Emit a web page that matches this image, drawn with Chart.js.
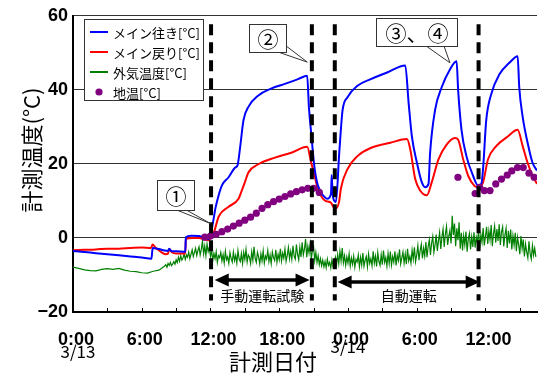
<!DOCTYPE html>
<html><head><meta charset="utf-8">
<script src="https://cdn.jsdelivr.net/npm/chart.js@4"></script>
<style>html,body{margin:0;padding:0;background:#fff}#wrap{width:541px;height:374px;position:relative}</style>
</head><body><div id="wrap"><canvas id="c" width="541" height="374"></canvas></div>
<script>
// ---------- data ----------
const xTickHours = [0, 6, 12, 18, 24, 30, 36];
const xTickLabels = ['0:00', '6:00', '12:00', '18:00', '0:00', '6:00', '12:00'];
const xMinorTickHours = [3, 9, 15, 21, 27, 33, 39];
const dateHours = [0, 24];
const dateLabels = ['3/13', '3/14'];
const yTicks = [-20, 0, 20, 40, 60];
const seriesNames = ['メイン往き[°C]', 'メイン戻り[°C]', '外気温度[°C]', '地温[°C]'];

const blueT = [0,1,2,3,4,5,6,6.85,6.95,7.5,8.0,8.3,8.4,8.6,9.0,9.8,9.85,10.3,11.0,11.5,11.8,12.0,12.28,12.43,12.72,13.0,13.58,14.16,14.36,14.6,14.88,15.31,16.18,17.33,18.49,19.64,20.44,20.59,20.79,21.08,21.37,21.95,22.23,22.52,22.58,22.66,22.81,22.95,23.24,23.53,23.96,24.83,25.98,27.42,29.0,29.3,29.58,30.02,30.45,30.74,31.03,31.17,31.6,32.18,32.9,33.48,33.62,33.91,34.34,34.92,35.35,35.64,35.79,36.07,36.51,37.22,38.09,38.81,38.95,39.25,39.68,40.11,40.5];
const blueV = [-3.5,-3.8,-4.1,-4.4,-4.7,-5.0,-5.3,-5.6,-2.7,-3.0,-3.4,-3.5,-2.9,-3.6,-3.6,-3.7,0.2,0.6,0.5,0.0,-0.3,0.8,5.3,8.0,11.6,14.2,16.4,19.0,19.6,24.8,31.8,35.4,38.5,40.4,41.6,42.9,43.8,35.4,28.3,19.0,14.2,11.1,10.6,12.0,17.0,12.0,10.0,9.7,23.0,34.5,38.0,41.1,42.9,44.7,46.6,36.3,27.4,20.3,15.0,13.7,14.6,23.0,34.5,40.7,45.5,47.7,39.8,29.2,22.1,16.8,14.2,14.6,18.6,31.8,38.9,44.2,47.3,49.1,40.7,32.7,25.7,20.3,18.2];

const redT = [0,1,2,3,4,5,6,6.8,6.95,7.2,7.6,8.1,8.3,8.4,8.6,9.0,9.8,9.85,10.5,11.0,11.5,11.9,12.0,12.28,12.72,13.58,14.45,14.73,15.0,15.31,16.18,17.62,19.06,20.44,20.79,21.02,21.37,21.95,22.52,22.81,22.95,23.24,23.38,23.96,24.83,25.98,27.7,29.15,29.44,29.87,30.3,30.88,31.31,31.9,32.61,33.33,33.62,34.06,34.49,35.06,35.35,35.79,36.22,36.94,37.95,38.81,39.25,39.68,40.11,40.5];
const redV = [-3.3,-3.2,-3.1,-2.9,-2.9,-2.7,-2.6,-2.7,-1.8,-2.6,-3.6,-4.4,-4.2,-3.0,-3.8,-4.2,-4.2,-0.2,0.0,0.0,-0.4,-0.6,0.0,1.3,5.8,8.4,10.6,12.8,15.0,17.7,19.9,21.7,23.0,24.6,20.3,17.7,13.3,10.2,9.5,8.0,8.0,10.0,13.3,18.6,22.1,24.3,25.7,26.7,23.9,15.9,12.8,11.5,15.0,21.2,25.2,27.0,26.5,21.2,16.8,14.0,13.7,15.0,21.2,24.8,27.4,29.2,24.8,20.3,16.8,14.6];

// outside temperature: readings every 30 min 0:00-7:30, then 6-minute samples from 8:00
const greenEarlyT = [0,0.5,1,1.5,2,2.5,3,3.5,4,4.5,5,5.5,6,6.5,7,7.5];
const greenEarlyV = [-7.9,-8.2,-8.6,-8.8,-8.9,-8.5,-8.3,-8.5,-8.2,-8.7,-9.0,-9.1,-9.4,-9.5,-9.0,-8.7];
const greenDenseStart = 8.0, greenDenseStep = 0.1;
const greenDenseV = [
-7.6,-7.2,-7.9,-6.9,-7.4,-6.6,-7.5,-7.0,-6.4,-7.1,
-5.9,-6.7,-5.2,-6.3,-4.8,-6.0,-5.4,-4.3,-5.8,-4.6,
-5.2,-3.8,-5.6,-4.4,-3.2,-5.0,-3.9,-2.8,-4.7,-3.4,
-2.4,-4.6,-3.1,-0.9,-4.3,-2.2,-4.8,-1.6,-3.7,-2.5,
-5.0,-3.3,-6.1,-4.2,-5.6,-3.7,-6.6,-4.8,-5.3,-3.9,
-6.2,-4.5,-6.8,-3.6,-5.9,-5.1,-6.9,-4.0,-5.5,-6.5,
-3.8,-6.1,-4.7,-6.8,-3.4,-5.7,-6.4,-4.2,-6.9,-3.9,
-5.8,-3.1,-6.5,-4.6,-5.2,-6.9,-3.7,-6.0,-2.4,-5.5,
-6.6,-3.9,-5.1,-7.0,-4.3,-6.2,-3.5,-6.8,-4.9,-5.7,
-3.4,-6.4,-4.6,-6.9,-3.8,-5.3,-6.1,-3.2,-6.6,-4.4,
-5.9,-2.9,-6.2,-4.1,-5.5,-3.0,-6.3,-4.7,-2.6,-5.6,
-3.6,-5.8,-2.1,-4.9,-5.7,-1.8,-4.4,-5.9,-2.5,-5.1,
-1.2,-4.6,-3.0,-0.3,-5.2,-2.2,-4.1,-1.6,-5.6,-3.3,
-2.4,-6.1,-3.9,-6.6,-4.8,-7.2,-5.6,-7.5,-6.0,-7.8,
-6.3,-8.0,-5.7,-7.4,-6.6,-8.1,-5.9,-7.7,-6.8,-5.2,
-7.3,-4.5,-6.9,-3.6,-6.2,-2.7,-6.7,-4.8,-7.4,-5.1,
-6.8,-4.3,-7.6,-5.4,-7.1,-4.9,-7.9,-5.8,-6.5,-4.6,
-7.8,-5.2,-7.3,-4.1,-7.6,-6.0,-5.0,-7.8,-4.4,-6.9,
-5.6,-7.5,-3.6,-6.8,-4.9,-7.7,-3.9,-6.3,-7.4,-4.5,
-7.2,-3.4,-6.6,-5.3,-7.6,-4.2,-6.9,-3.7,-7.3,-5.0,
-6.5,-3.6,-7.4,-4.7,-6.1,-3.1,-7.0,-5.4,-3.8,-6.8,
-4.3,-7.1,-2.9,-6.2,-5.0,-6.8,-3.3,-5.7,-2.5,-6.4,
-4.6,-2.1,-6.0,-3.4,-1.7,-5.5,-2.8,-4.9,-1.1,-5.2,
-2.3,-0.5,-4.6,-1.4,0.4,-3.9,-1.9,0.9,-3.5,-0.8,
1.5,-3.0,0.2,2.4,-2.4,1.0,3.1,-1.9,0.4,2.0,
-1.5,6.0,0.8,3.9,-2.2,2.6,-0.6,4.2,-2.9,1.4,
-3.4,0.6,-1.9,1.7,-3.7,-0.4,1.2,-3.1,0.3,-2.4,
1.5,-2.6,0.2,-1.4,2.1,-2.9,0.9,-1.1,2.7,-2.0,
0.4,3.0,-1.6,1.9,-0.5,3.5,-2.2,1.1,3.2,-1.3,
2.4,-0.8,3.7,-1.9,1.6,3.0,-2.3,0.8,2.6,-2.7,
1.9,-1.5,2.3,-3.1,0.6,-2.0,1.4,-3.6,0.2,-1.8,
-4.4,0.5,-2.9,-0.4,-5.0,-1.6,-3.8,-5.4,-0.9,-4.2,
-5.7,-2.0,-4.6,-2.8,-5.1];

const soilT = [11.5,12.0,12.5,13.0,13.5,14.0,14.5,15.0,15.5,16.0,16.5,17.0,17.5,18.0,18.5,19.0,19.5,20.0,20.5,21.0,21.5,33.6,35.1,35.5,35.9,36.4,36.9,37.4,37.9,38.3,38.8,39.3,39.8,40.25];
const soilV = [0.2,0.5,1.0,1.7,2.4,3.2,4.0,4.8,5.6,6.7,8.0,9.0,9.8,10.5,11.2,11.9,12.5,13.0,13.4,13.4,12.3,16.4,12.0,13.7,12.8,12.8,14.6,15.9,17.0,18.1,19.0,19.0,17.5,16.4];

const markerHours = [12.05, 20.85, 22.85, 35.4];
const periodRanges = [[12.37, 20.65], [23.1, 35.5]];
const periodLabels = ['手動運転試験', '自動運転'];
const calloutLabels = ['①', '②', '③、④'];
const calloutTips = [[12.0, 3.9], [20.45, 47.5], [32.9, 47.3]];

// ---------- build ----------
const pts = (t, v) => t.map((x, i) => ({x, y: v[i]}));
const greenPts = pts(greenEarlyT, greenEarlyV).concat(
  greenDenseV.map((y, i) => ({x: +(greenDenseStart + i * greenDenseStep).toFixed(2), y})));
const JP = '"Noto Sans CJK JP", sans-serif';

const datasets = [];
markerHours.forEach(h => datasets.push({
  label: '', data: [{x: h, y: 57.7}, {x: h, y: -16.9}],
  borderColor: '#000', borderWidth: 4, borderDash: [11, 7], pointRadius: 0, showLine: true
}));
datasets.push({label: seriesNames[3], data: pts(soilT, soilV), showLine: false,
  pointRadius: 3.6, pointBackgroundColor: '#800080', pointBorderWidth: 0, borderColor: '#800080'});
datasets.push({label: seriesNames[0], data: pts(blueT, blueV), borderColor: '#0000ff', borderWidth: 2, pointRadius: 0, cubicInterpolationMode: 'monotone'});
datasets.push({label: seriesNames[1], data: pts(redT, redV), borderColor: '#ff0000', borderWidth: 2, pointRadius: 0, cubicInterpolationMode: 'monotone'});
datasets.push({label: seriesNames[2], data: greenPts, borderColor: '#008000', borderWidth: 1.2, pointRadius: 0, tension: 0});

const overlay = {
  id: 'overlay',
  afterDraw(chart) {
    const ctx = chart.ctx, xs = chart.scales.x, ys = chart.scales.y;
    const ca = chart.chartArea;
    ctx.save();
    ctx.strokeStyle = '#000'; ctx.lineWidth = 1;
    xMinorTickHours.concat(xTickHours).forEach(h => {
      const px = Math.round(xs.getPixelForValue(h)) + 0.5;
      ctx.beginPath(); ctx.moveTo(px, ca.bottom); ctx.lineTo(px, ca.bottom - 4); ctx.stroke();
    });
    ctx.fillStyle = '#000';
    periodRanges.forEach((r, i) => {
      const x1 = xs.getPixelForValue(r[0]), x2 = xs.getPixelForValue(r[1]);
      const y = Math.round(ys.getPixelForValue(i === 0 ? -11.4 : -11.9));
      const hl = 14, hh = 6.5;
      ctx.strokeStyle = '#000'; ctx.lineWidth = 3.5;
      ctx.beginPath(); ctx.moveTo(x1 + hl - 1, y); ctx.lineTo(x2 - hl + 1, y); ctx.stroke();
      ctx.beginPath(); ctx.moveTo(x1, y); ctx.lineTo(x1 + hl, y - hh); ctx.lineTo(x1 + hl, y + hh); ctx.closePath(); ctx.fill();
      ctx.beginPath(); ctx.moveTo(x2, y); ctx.lineTo(x2 - hl, y - hh); ctx.lineTo(x2 - hl, y + hh); ctx.closePath(); ctx.fill();
      ctx.font = '14px ' + JP; ctx.textAlign = 'center'; ctx.textBaseline = 'middle';
      ctx.fillText(periodLabels[i], (x1 + x2) / 2, 296);
    });
    const boxes = [
      {w: 37, h: 30, dx: -53, dy: -44, b1: [-35, -14], b2: [-25, -14]},
      {w: 37, h: 28, dx: -58, dy: -38, b1: [-29, -10], b2: [-21, -16]},
      {w: 81, h: 28, dx: -74, dy: -45, b1: [-24, -17], b2: [-6, -17]}
    ];
    calloutLabels.forEach((lab, i) => {
      const tx = xs.getPixelForValue(calloutTips[i][0]), ty = ys.getPixelForValue(calloutTips[i][1]);
      const b = boxes[i];
      const bx = Math.round(tx + b.dx) + 0.5, by = Math.round(ty + b.dy) + 0.5;
      ctx.fillStyle = '#fff'; ctx.strokeStyle = '#333'; ctx.lineWidth = 1;
      ctx.beginPath(); ctx.moveTo(tx + b.b1[0], ty + b.b1[1]); ctx.lineTo(tx, ty); ctx.lineTo(tx + b.b2[0], ty + b.b2[1]); ctx.stroke();
      ctx.fillRect(bx, by, b.w, b.h); ctx.strokeRect(bx, by, b.w, b.h);
      ctx.fillStyle = '#000'; ctx.font = '21px ' + JP; ctx.textAlign = 'center'; ctx.textBaseline = 'middle';
      ctx.fillText(lab, bx + b.w / 2, by + b.h / 2 + 1);
    });
    const lx = 84.5, ly = 19.5, lw = 119, lh = 81;
    ctx.fillStyle = '#fff'; ctx.fillRect(lx, ly, lw, lh);
    ctx.strokeStyle = '#333'; ctx.lineWidth = 1; ctx.strokeRect(lx, ly, lw, lh);
    const cols = ['#0000ff', '#ff0000', '#008000', '#800080'];
    ctx.font = '13px ' + JP; ctx.textAlign = 'left'; ctx.textBaseline = 'middle';
    [0, 1, 2, 3].forEach((k, j) => {
      const yy = 32 + j * 20;
      if (k === 3) {
        ctx.fillStyle = cols[k]; ctx.beginPath(); ctx.arc(99, yy, 3.6, 0, Math.PI * 2); ctx.fill();
      } else {
        ctx.strokeStyle = cols[k]; ctx.lineWidth = 2; ctx.beginPath(); ctx.moveTo(90, yy); ctx.lineTo(108, yy); ctx.stroke();
      }
      ctx.fillStyle = '#000'; ctx.fillText(seriesNames[k], 113, yy + 1);
    });
    ctx.font = '17px ' + JP; ctx.textAlign = 'center'; ctx.textBaseline = 'middle'; ctx.fillStyle = '#000';
    dateLabels.forEach((d, i) => {
      const px = xs.getPixelForValue(dateHours[i]);
      ctx.fillText(d, px + (i === 0 ? 5 : 0), i === 0 ? 352 : 347);
    });
    ctx.font = '22px ' + JP;
    ctx.fillText('計測日付', 273, 362);
    ctx.save(); ctx.translate(32, 150); ctx.rotate(-Math.PI / 2);
    ctx.fillText('計測温度(°C)', 0, 0); ctx.restore();
    ctx.restore();
  }
};

new Chart(document.getElementById('c'), {
  type: 'line',
  data: {datasets},
  options: {
    responsive: false, animation: false, devicePixelRatio: 1,
    layout: {padding: {top: 10, right: 0, left: 0, bottom: 0}},
    plugins: {legend: {display: false}, tooltip: {enabled: false}},
    scales: {
      x: {
        type: 'linear', min: 0, max: 40.5,
        afterBuildTicks: s => { s.ticks = xTickHours.map(v => ({value: v})); },
        afterFit: s => { s.height = 62; },
        grid: {display: false},
        border: {display: true, color: '#000', width: 2},
        ticks: {
          autoSkip: false, maxRotation: 0, padding: 9, labelOffset: 3, color: '#000',
          font: {family: '"Liberation Sans", Arial, sans-serif', size: 18, weight: 'bold'},
          callback: (v) => { const i = xTickHours.indexOf(v); return i >= 0 ? xTickLabels[i] : ''; }
        }
      },
      y: {
        min: -20, max: 60,
        afterBuildTicks: s => { s.ticks = yTicks.map(v => ({value: v})); },
        afterFit: s => { s.width = 73; },
        grid: {color: '#333', lineWidth: 1, drawTicks: false},
        border: {display: true, color: '#000', width: 2},
        ticks: {
          padding: 5, color: '#000',
          font: {family: '"Liberation Sans", Arial, sans-serif', size: 18, weight: 'bold'},
          callback: (v) => v < 0 ? '\u2212' + Math.abs(v) : String(v)
        }
      }
    }
  },
  plugins: [overlay]
});
</script>
</body></html>
